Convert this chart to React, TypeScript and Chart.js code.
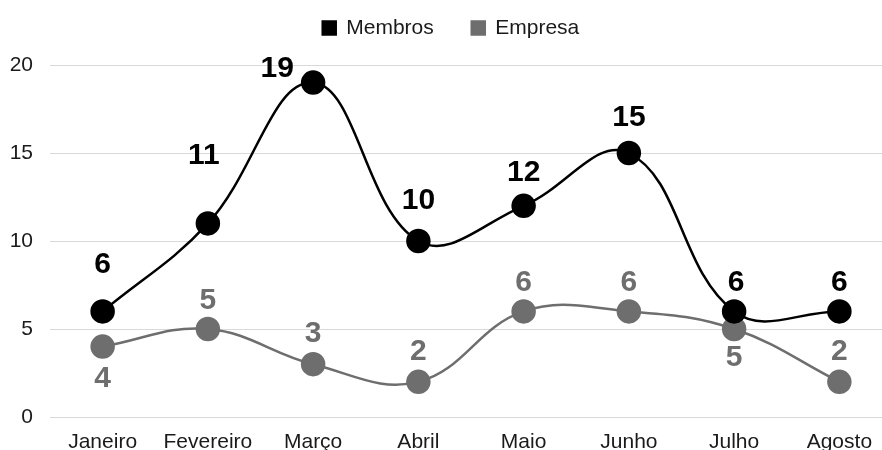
import React, { useEffect, useRef } from "react";
import { Chart, registerables } from "chart.js";

Chart.register(...registerables);

const categories = ["Janeiro", "Fevereiro", "Março", "Abril", "Maio", "Junho", "Julho", "Agosto"];
const membros = [6, 11, 19, 10, 12, 15, 6, 6];
const empresa = [4, 5, 3, 2, 6, 6, 5, 2];
const yTicks = [0, 5, 10, 15, 20];

// label placement styles (pixel offsets from the point: [dx, dy])
const membrosLabelOffset: [number, number][] = [
  [0, -48], [-4, -69], [-36, -15], [0, -41], [0, -34], [0, -36], [2, -30], [0, -30],
];
const empresaLabelOffset: [number, number][] = [
  [0, 31], [0, -29], [0, -31], [0, -31], [0, -30], [0, -30], [0, 28], [0, -31],
];

const FONT = "'Liberation Sans', Arial, sans-serif";
const LEGEND_PAD = 38;
const LEGEND_HEIGHT = 65;
const LEGEND_SHIFT = -20.5;
const LEGEND_DX = 5;
const X_AXIS_HEIGHT = 33;
const Y_AXIS_WIDTH = 50;

const legendPatchPlugin = {
  id: "legendPatch",
  beforeLayout(chart: any) {
    const lg = chart.legend;
    if (lg && !lg.__patched) {
      const origFit = lg.fit;
      lg.fit = function () {
        origFit.call(this);
        this.height = LEGEND_HEIGHT;
      };
      const origDraw = lg.draw;
      lg.draw = function () {
        const t = this.top;
        const l = this.left;
        const r = this.right;
        this.top = t + LEGEND_SHIFT;
        this.left = l + LEGEND_DX;
        this.right = r + LEGEND_DX;
        origDraw.call(this);
        this.top = t;
        this.left = l;
        this.right = r;
      };
      lg.__patched = true;
    }
  },
};

const labelPlugin = {
  id: "valueLabels",
  afterDatasetsDraw(chart: any) {
    const ctx = chart.ctx;
    const offsets = [membrosLabelOffset, empresaLabelOffset];
    chart.data.datasets.forEach((ds: any, di: number) => {
      const meta = chart.getDatasetMeta(di);
      meta.data.forEach((pt: any, i: number) => {
        const [dx, dy] = offsets[di][i];
        ctx.save();
        ctx.font = `bold 30px ${FONT}`;
        ctx.fillStyle = ds.borderColor;
        ctx.textAlign = "center";
        ctx.textBaseline = "middle";
        ctx.fillText(String(ds.data[i]), pt.x + dx, pt.y + dy + 1);
        ctx.restore();
      });
    });
  },
};

export default function App() {
  const ref = useRef<HTMLCanvasElement | null>(null);
  useEffect(() => {
    document.body.style.margin = "0";
    document.body.style.overflow = "hidden";
    const chart = new Chart(ref.current!, {
      type: "line",
      data: {
        labels: categories,
        datasets: [
          {
            label: "Membros",
            data: membros,
            borderColor: "#000000",
            backgroundColor: "#000000",
            borderWidth: 2.5,
            pointRadius: 11,
            pointHoverRadius: 11,
            tension: 0.4,
          },
          {
            label: "Empresa",
            data: empresa,
            borderColor: "#6e6e6e",
            backgroundColor: "#6e6e6e",
            borderWidth: 2.5,
            pointRadius: 11,
            pointHoverRadius: 11,
            tension: 0.4,
          },
        ],
      },
      options: {
        animation: false,
        responsive: false,
        layout: { autoPadding: false, padding: 0 },
        plugins: {
          legend: {
            position: "top",
            labels: {
              boxWidth: 13,
              boxHeight: 13,
              color: "#1a1a1a",
              font: { family: FONT, size: 21 },
              padding: LEGEND_PAD,
            },
          },
          tooltip: { enabled: false },
        },
        scales: {
          x: {
            offset: true,
            grid: { display: false },
            border: { display: false },
            ticks: { color: "#1a1a1a", font: { family: FONT, size: 21 }, padding: 5 },
            afterFit: (axis: any) => {
              axis.height = X_AXIS_HEIGHT;
              axis.paddingLeft = 0;
              axis.paddingRight = 0;
            },
          },
          y: {
            min: 0,
            max: 20,
            afterBuildTicks: (axis: any) => {
              axis.ticks = yTicks.map((v) => ({ value: v }));
            },
            afterFit: (axis: any) => {
              axis.width = Y_AXIS_WIDTH;
            },
            grid: { color: "#d9d9d9", lineWidth: 1, drawTicks: false },
            border: { display: false },
            ticks: { color: "#1a1a1a", font: { family: FONT, size: 21 }, padding: 17 },
          },
        },
      },
      plugins: [legendPatchPlugin, labelPlugin],
    });
    return () => chart.destroy();
  }, []);
  return (
    <div style={{ width: 892, height: 450 }}>
      <canvas ref={ref} width={892} height={450} />
    </div>
  );
}
